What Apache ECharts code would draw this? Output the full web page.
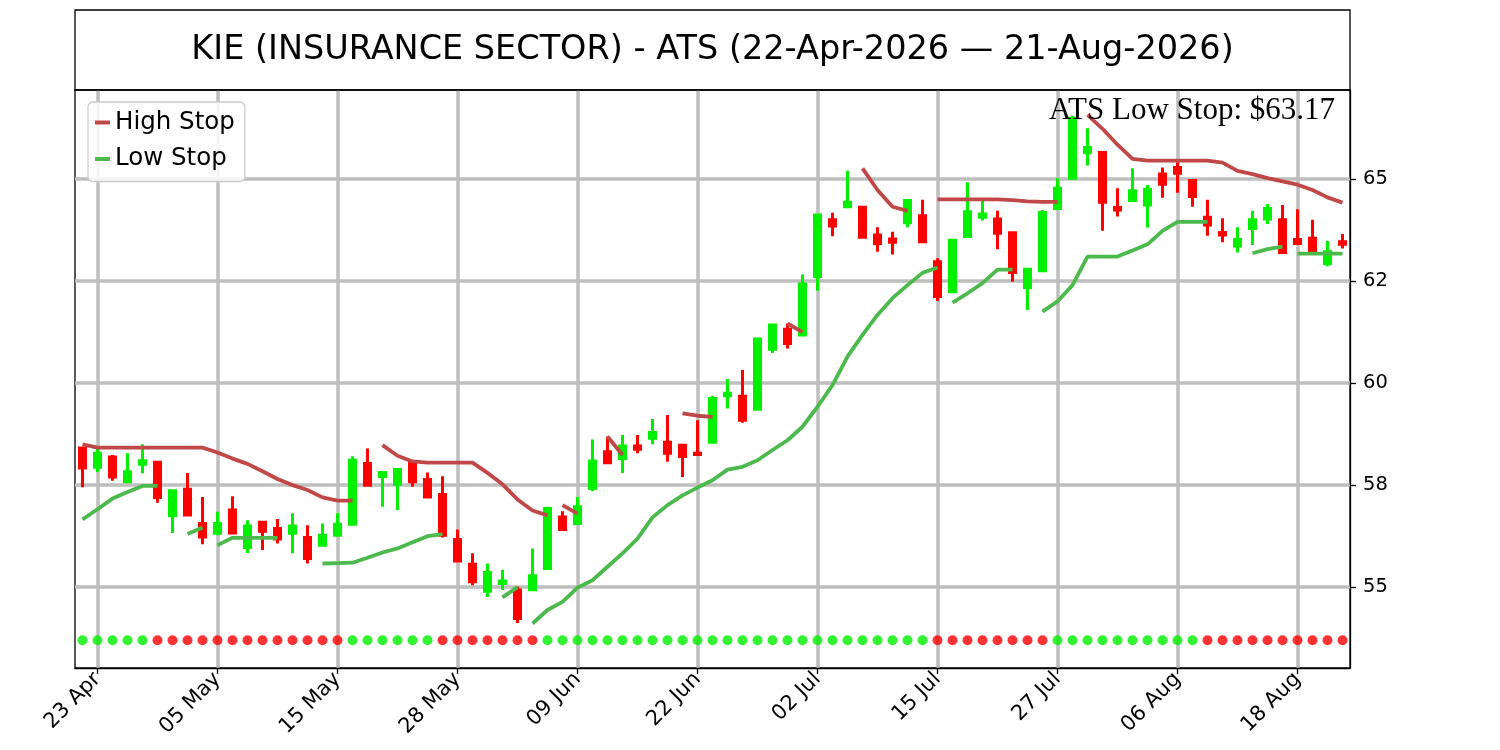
<!DOCTYPE html>
<html><head><meta charset="utf-8">
<script src="https://cdn.jsdelivr.net/npm/echarts@6/dist/echarts.min.js"></script>
<style>html,body{margin:0;padding:0;background:#fff}#c{width:1500px;height:750px}</style>
</head><body><div id="c"></div>
<script>
const dates = [
 '2026-04-22','2026-04-23','2026-04-24','2026-04-27','2026-04-28','2026-04-29','2026-04-30',
 '2026-05-01','2026-05-04','2026-05-05','2026-05-06','2026-05-07','2026-05-08','2026-05-11','2026-05-12','2026-05-13','2026-05-14','2026-05-15','2026-05-18','2026-05-19','2026-05-20','2026-05-21','2026-05-22','2026-05-26','2026-05-27','2026-05-28','2026-05-29',
 '2026-06-01','2026-06-02','2026-06-03','2026-06-04','2026-06-05','2026-06-08','2026-06-09','2026-06-10','2026-06-11','2026-06-12','2026-06-15','2026-06-16','2026-06-17','2026-06-18','2026-06-22','2026-06-23','2026-06-24','2026-06-25','2026-06-26','2026-06-29','2026-06-30',
 '2026-07-01','2026-07-02','2026-07-06','2026-07-07','2026-07-08','2026-07-09','2026-07-10','2026-07-13','2026-07-14','2026-07-15','2026-07-16','2026-07-17','2026-07-20','2026-07-21','2026-07-22','2026-07-23','2026-07-24','2026-07-27','2026-07-28','2026-07-29','2026-07-30','2026-07-31',
 '2026-08-03','2026-08-04','2026-08-05','2026-08-06','2026-08-07','2026-08-10','2026-08-11','2026-08-12','2026-08-13','2026-08-14','2026-08-17','2026-08-18','2026-08-19','2026-08-20','2026-08-21'
];
const opens = [
 58.41,57.94,58.19,57.58,58.01,58.06,56.75,57.40,56.56,56.32,56.89,55.97,56.59,56.44,56.32,56.22,56.03,56.27,56.54,58.03,
 57.71,57.52,58.06,57.64,57.27,56.17,55.56,54.90,55.09,54.93,54.94,55.46,56.72,56.56,57.42,58.32,58.15,58.46,58.65,58.55,
 58.48,58.28,58.55,59.69,59.68,59.36,60.83,61.32,61.18,62.61,64.00,64.32,64.31,63.63,63.53,63.93,64.10,62.97,62.24,63.59,
 64.06,64.02,63.68,62.34,62.75,64.28,65.02,65.65,65.65,64.30,64.47,64.36,65.12,65.28,64.96,64.06,63.69,63.36,63.79,64.02,
 64.00,63.52,63.55,62.93,63.46
];
const closes = [
 57.92,58.28,57.70,57.83,58.10,57.20,57.36,56.77,56.23,56.56,56.33,56.50,56.37,56.18,56.50,55.70,56.27,56.54,58.11,57.50,
 57.81,57.88,57.58,57.21,56.27,55.64,55.13,55.36,55.15,54.23,55.28,56.93,56.41,56.97,58.09,58.05,58.46,58.38,58.79,58.28,
 58.20,58.25,59.62,59.75,59.09,61.08,61.42,60.97,62.43,64.12,63.85,64.43,63.57,63.42,63.45,64.47,63.46,62.12,63.50,64.20,
 64.14,63.67,62.71,62.79,64.18,64.77,66.49,65.77,64.43,64.24,64.71,64.75,64.87,65.14,64.57,63.87,63.63,63.52,64.00,64.28,
 63.20,63.42,63.20,63.22,63.40
];
const lows = [
 57.45,57.82,57.61,57.58,57.79,57.07,56.33,56.77,56.05,56.27,56.33,55.84,55.91,56.07,55.83,55.58,56.03,56.27,56.54,57.46,
 56.97,56.89,57.46,57.19,56.22,55.64,55.05,54.76,54.93,54.12,54.94,55.46,56.41,56.56,57.35,58.05,57.80,58.28,58.50,58.07,
 57.70,58.25,58.55,59.38,59.03,59.36,60.74,60.85,61.18,62.26,63.60,64.32,63.57,63.22,63.15,63.82,63.46,62.01,62.24,63.59,
 63.98,63.28,62.48,61.79,62.75,64.28,65.02,65.33,63.73,64.08,64.47,63.81,64.54,64.66,64.32,63.61,63.45,63.20,63.38,63.90,
 63.20,63.42,63.20,62.86,63.30
];
const highs = [
 58.42,58.43,58.24,58.28,58.50,58.06,57.36,57.80,57.21,56.85,57.23,56.64,56.59,56.67,56.81,56.52,56.56,56.81,58.21,58.40,
 57.81,57.88,58.06,57.81,57.72,56.41,55.83,55.58,55.43,55.01,55.95,56.97,56.86,57.21,58.62,58.69,58.73,58.73,59.12,59.22,
 58.48,59.09,59.69,60.10,60.32,61.08,61.42,61.46,62.66,64.12,64.17,65.20,64.31,63.82,63.71,64.47,64.49,63.06,63.50,64.92,
 64.49,64.22,63.68,62.79,64.24,65.02,66.55,66.24,65.65,64.77,65.26,64.85,65.28,65.41,64.96,64.49,64.04,63.82,64.22,64.39,
 64.36,64.26,64.00,63.48,63.65
];
// [start index, values]
const highStopSegments = [
 [0,  [58.50,58.42,58.42,58.42,58.42,58.42,58.42,58.42,58.42,58.30,58.15,58.02,57.84,57.65,57.50,57.38,57.20,57.12,57.12]],
 [20, [58.48,58.22,58.08,58.05,58.05,58.05,58.05,57.80,57.52,57.15,56.88,56.76]],
 [32, [57.01,56.80]],
 [35, [58.69,58.24]],
 [40, [59.26,59.20,59.17]],
 [47, [61.46,61.25]],
 [52, [65.26,64.73,64.32,64.22]],
 [57, [64.50,64.50,64.50,64.50,64.50,64.48,64.45,64.44,64.44]],
 [67, [66.57,66.23,65.84,65.49,65.45,65.45,65.45,65.45,65.45,65.40,65.20,65.12,65.02,64.94,64.86,64.73,64.55,64.42]]
];
const lowStopSegments = [
 [0,  [56.66,56.91,57.17,57.33,57.48,57.48]],
 [7,  [56.30,56.46]],
 [9,  [56.03,56.21,56.21,56.21,56.21]],
 [16, [55.58,55.59,55.60,55.72,55.85,55.95,56.10,56.25,56.30]],
 [28, [54.75,55.00]],
 [30, [54.11,54.44,54.64,54.99,55.17,55.50,55.83,56.19,56.71,57.01,57.25,57.44,57.62,57.88,57.95,58.11,58.36,58.60,58.93,59.42,59.95,60.65,61.18,61.67,62.08,62.40,62.70,62.83]],
 [58, [61.97,62.20,62.45,62.78,62.78]],
 [64, [61.75,62.00,62.40,63.10,63.10,63.10,63.25,63.40,63.73,63.95,63.95,63.95]],
 [78, [63.18,63.28,63.34]],
 [81, [63.17,63.17,63.17,63.17]]
];
const trendSignal = [
 1,1,1,1,1,
 -1,-1,-1,-1,-1,-1,-1,-1,-1,-1,-1,-1,-1,
 1,1,1,1,1,1,
 -1,-1,-1,-1,-1,-1,-1,
 1,1,1,1,1,1,1,1,1,1,1,1,1,1,1,1,1,1,1,1,1,1,1,1,1,1,
 -1,-1,-1,-1,-1,-1,-1,-1,
 1,1,1,1,1,1,1,1,1,1,
 -1,-1,-1,-1,-1,-1,-1,-1,-1,-1
];
const dotLevel = 53.7;
const yTickValues = [55, 57.5, 60, 62.5, 65];
const yTickLabels = ['55', '58', '60', '62', '65'];
const titleText = 'KIE (INSURANCE SECTOR) - ATS (22-Apr-2026 \u2014 21-Aug-2026)';
const noteText = 'ATS Low Stop: $63.17';
const monthNames = ['Jan','Feb','Mar','Apr','May','Jun','Jul','Aug','Sep','Oct','Nov','Dec'];

const UP = '#00f000', DOWN = '#ff0000';
const HIGH_C = '#c04848', LOW_C = '#4cb94c';
const GRID_C = '#bebebe';
const FONT = 'DejaVu Sans';

function segSeries(name, color, segs) {
  return segs.map(([start, vals]) => {
    const arr = dates.map(() => null);
    vals.forEach((v, k) => { arr[start + k] = v; });
    return {
      type: 'line', name, data: arr, symbol: 'none', connectNulls: false,
      lineStyle: { color, width: 3.8 }, itemStyle: { color }, z: 4, silent: true
    };
  });
}
const tickShow = (i) => (i - 1) % 8 === 0;

const chart = echarts.init(document.getElementById('c'), null, { renderer: 'canvas' });
chart.setOption({
  animation: false,
  backgroundColor: '#fff',
  grid: { left: 75, right: 150, top: 90, bottom: 82, show: true, borderColor: '#000', borderWidth: 1.3 },
  legend: {
    left: 88, top: 102, orient: 'vertical',
    data: [{ name: 'High Stop', icon: 'rect' }, { name: 'Low Stop', icon: 'rect' }],
    itemWidth: 15, itemHeight: 4, itemGap: 11.5,
    padding: [8, 10, 10, 7],
    backgroundColor: 'rgba(255,255,255,0.85)', borderColor: '#cccccc', borderWidth: 1.3, borderRadius: 5,
    textStyle: { fontFamily: FONT, fontSize: 24.5, color: '#000' },
    selectedMode: false
  },
  xAxis: {
    type: 'category', data: dates, boundaryGap: true,
    axisLine: { show: true, lineStyle: { color: '#000', width: 1.3 } },
    axisTick: { show: true, interval: tickShow, alignWithLabel: true, length: 6, lineStyle: { color: '#000', width: 1.3 } },
    axisLabel: {
      interval: tickShow, rotate: 45, margin: 8, fontFamily: FONT, fontSize: 21, color: '#000',
      formatter: (v) => { const p = v.split('-'); return p[2] + ' ' + monthNames[+p[1] - 1]; }
    },
    splitLine: { show: true, interval: tickShow, alignWithLabel: true, lineStyle: { color: GRID_C, width: 3.5 } }
  },
  yAxis: {
    type: 'value', position: 'right', min: 53.02, max: 67.18,
    axisLine: { show: true, lineStyle: { color: '#000', width: 1.3 } },
    axisTick: { show: true, length: 6, customValues: yTickValues, lineStyle: { color: '#000', width: 1.3 } },
    axisLabel: {
      customValues: yTickValues, margin: 13, fontFamily: FONT, fontSize: 19.5, color: '#000',
      formatter: (v) => yTickLabels[yTickValues.indexOf(v)]
    },
    splitLine: { show: true, lineStyle: { color: GRID_C, width: 3.5 } }
  },
  graphic: [
    { type: 'rect', shape: { x: 75, y: 10, width: 1275, height: 80 }, style: { fill: 'none', stroke: '#000', lineWidth: 1.3 }, z: 10 },
    { type: 'text', x: 712.5, y: 50, style: { text: titleText, fontFamily: FONT, fontSize: 33.5, fill: '#000', textAlign: 'center', textVerticalAlign: 'middle' }, z: 10 },
    { type: 'text', x: 1335, y: 111, style: { text: noteText, fontFamily: 'Liberation Serif', fontSize: 31, fill: '#000', textAlign: 'right', textVerticalAlign: 'middle' }, z: 10 }
  ],
  series: [
    {
      type: 'candlestick', name: 'KIE', barWidth: 7, silent: true, z: 2,
      data: dates.map((d, i) => [opens[i], closes[i], lows[i], highs[i]]),
      itemStyle: { color: UP, color0: DOWN, borderColor: UP, borderColor0: DOWN, borderWidth: 3 }
    },
    ...segSeries('High Stop', HIGH_C, highStopSegments),
    ...segSeries('Low Stop', LOW_C, lowStopSegments),
    {
      type: 'scatter', name: 'Trend', symbolSize: 10, silent: true, z: 3,
      data: trendSignal.map((t, i) => ({ value: [i, dotLevel], itemStyle: { color: t > 0 ? UP : DOWN } }))
    }
  ]
});
</script></body></html>
